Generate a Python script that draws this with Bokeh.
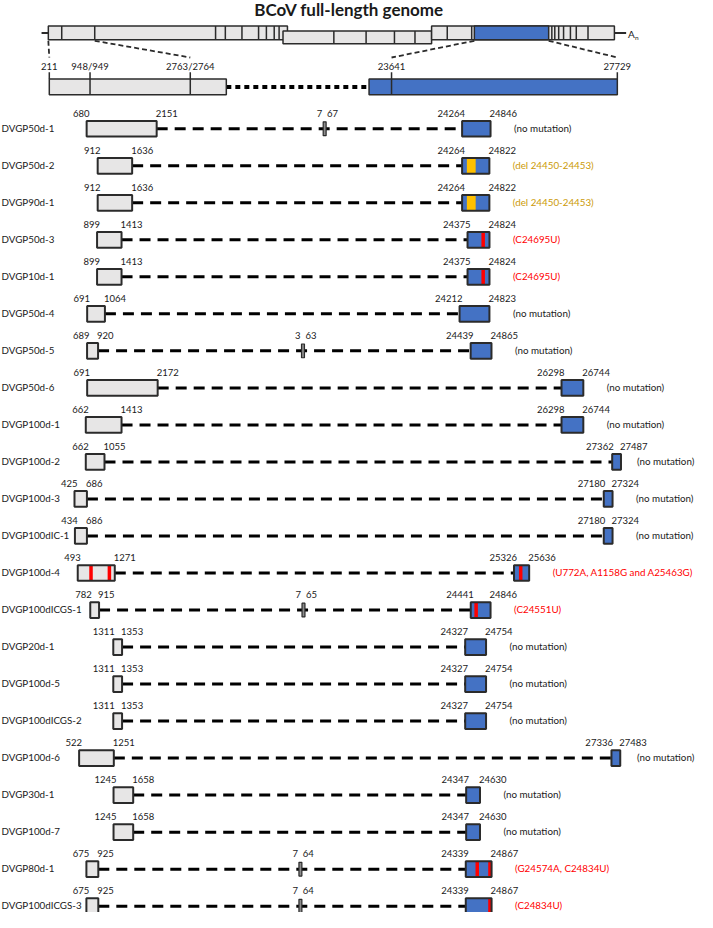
from bokeh.plotting import figure
from bokeh.models import Range1d
from bokeh.core.properties import value
from bokeh.embed import file_html
from bokeh.resources import INLINE

# ---------------- data ----------------
title = "BCoV full-length genome"

# full-length genome schematic (nt positions)
genome_groups_start = [211, 13118, 21290]
genome_groups_end = [13362, 21290, 31344]
genome_dividers = [948, 2763, 9409, 9946, 10860, 11774, 12204, 12634, 12903,
                   15914, 17688, 19247, 20376,
                   22151, 23495, 27903, 28065, 28280, 28548, 28925, 29247, 29892]
s_gene = [23641, 27729]
poly_a_label = "A"
poly_a_sub = "n"

# expanded view
exp_left_window = [211, 3416]
exp_right_window = [23234, 27729]
exp_marks = [211, 948.5, 2763.5, 23641, 27729]
exp_labels = ["211", "948/949", "2763/2764", "23641", "27729"]
exp_dividers = [948.5, 2763.5, 23641]

# DVGP rows
names = ["DVGP50d-1", "DVGP50d-2", "DVGP90d-1", "DVGP50d-3", "DVGP10d-1", "DVGP50d-4",
         "DVGP50d-5", "DVGP50d-6", "DVGP100d-1", "DVGP100d-2", "DVGP100d-3", "DVGP100dIC-1",
         "DVGP100d-4", "DVGP100dICGS-1", "DVGP20d-1", "DVGP100d-5", "DVGP100dICGS-2",
         "DVGP100d-6", "DVGP30d-1", "DVGP100d-7", "DVGP80d-1", "DVGP100dICGS-3"]
left_start = [680, 912, 912, 899, 899, 691, 689, 691, 662, 662, 425, 434, 493, 782,
              1311, 1311, 1311, 522, 1245, 1245, 675, 675]
left_end = [2151, 1636, 1636, 1413, 1413, 1064, 920, 2172, 1413, 1055, 686, 686, 1271, 915,
            1353, 1353, 1353, 1251, 1658, 1658, 925, 925]
right_start = [24264, 24264, 24264, 24375, 24375, 24212, 24439, 26298, 26298, 27362, 27180,
               27180, 25326, 24441, 24327, 24327, 24327, 27336, 24347, 24347, 24339, 24339]
right_end = [24846, 24822, 24822, 24824, 24824, 24823, 24865, 26744, 26744, 27487, 27324,
             27324, 25636, 24846, 24754, 24754, 24754, 27483, 24630, 24630, 24867, 24867]
# leader fragments (row index, start, end)
leader_row = [0, 6, 13, 20, 21]
leader_start = [7, 3, 7, 7, 7]
leader_end = [67, 63, 65, 64, 64]
# mutations
point_row = [3, 4, 12, 12, 12, 13, 20, 20, 21]
point_pos = [24695, 24695, 772, 1158, 25463, 24551, 24574, 24834, 24834]
del_row = [1, 2]
del_start = [24450, 24450]
del_end = [24453, 24453]
notes = ["(no mutation)", "(del 24450-24453)", "(del 24450-24453)", "(C24695U)", "(C24695U)",
         "(no mutation)", "(no mutation)", "(no mutation)", "(no mutation)", "(no mutation)",
         "(no mutation)", "(no mutation)", "(U772A, A1158G and A25463G)", "(C24551U)",
         "(no mutation)", "(no mutation)", "(no mutation)", "(no mutation)", "(no mutation)",
         "(no mutation)", "(G24574A, C24834U)", "(C24834U)"]
note_kind = ["none", "del", "del", "point", "point", "none", "none", "none", "none", "none",
             "none", "none", "point", "point", "none", "none", "none", "none", "none", "none",
             "point", "point"]

# ---------------- scales (reference-pixel units) ----------------
def gx(pos):          # full genome schematic
    return 45 + 0.0186 * pos

def ex(pos):          # expanded view (broken axis)
    return 38 + 0.0565 * pos if pos < 10000 else -935.7 + 0.0565 * pos

def rx(pos):          # DVGP rows (broken axis)
    return 55 + 0.0487 * pos if pos < 10000 else -741 + 0.05 * pos

MINW = 9.0            # minimum drawn width of a fragment box

def widen(a, b):
    if b - a < MINW:
        c = (a + b) / 2
        return c - MINW / 2, c + MINW / 2
    return a, b

FONT = value("Lato")
GRAY = "#E7E6E6"
BLUE = "#4472C4"
EDGE = "#2b2b2b"
TXT = "#1a1a1a"
RED = "#FF0000"
GOLD = "#CC9A06"

p = figure(width=697, height=912, x_range=Range1d(0, 713), y_range=Range1d(928, 0),
           output_backend="svg", toolbar_location=None, min_border=0,
           x_axis_location=None, y_axis_location=None)
p.grid.visible = False
p.outline_line_color = None
p.background_fill_color = "white"

# ---------------- title ----------------
p.text(x=[356.5], y=[9], text=[title], text_font=FONT, text_font_style="bold",
       text_font_size="17px", text_align="center", text_baseline="middle", text_color=TXT)

# ---------------- full genome schematic ----------------
gy = [33, 37.5, 33]
gh = [14, 13, 14]
p.segment(x0=[gx(0) - 3, gx(genome_groups_end[-1])], y0=[33, 33],
          x1=[gx(genome_groups_start[0]), gx(genome_groups_end[-1]) + 12], y1=[33, 33],
          line_color=EDGE, line_width=2)
for s, e, yy, h in zip(genome_groups_start, genome_groups_end, gy, gh):
    p.quad(left=[gx(s)], right=[gx(e)], top=[yy - h / 2], bottom=[yy + h / 2],
           fill_color=GRAY, line_color=EDGE, line_width=1.5)
p.quad(left=[gx(s_gene[0])], right=[gx(s_gene[1])], top=[26], bottom=[40],
       fill_color=BLUE, line_color=EDGE, line_width=1.5)
for d in genome_dividers:
    gi = max(i for i, s in enumerate(genome_groups_start) if s <= d)
    p.segment(x0=[gx(d)], y0=[gy[gi] - gh[gi] / 2], x1=[gx(d)], y1=[gy[gi] + gh[gi] / 2],
              line_color=EDGE, line_width=1.5)
p.text(x=[gx(genome_groups_end[-1]) + 14], y=[34], text=[poly_a_label], text_font=FONT,
       text_font_size="10px", text_baseline="middle", text_color=TXT)
p.text(x=[gx(genome_groups_end[-1]) + 21], y=[38], text=[poly_a_sub], text_font=FONT,
       text_font_size="6.5px", text_baseline="middle", text_color=TXT)

# connectors from schematic to expanded view
conn_top = [211, 2763.5, 23641, 27729]
p.segment(x0=[gx(v) for v in conn_top], y0=[41] * 4, x1=[ex(v) for v in conn_top], y1=[58] * 4,
          line_color=EDGE, line_width=1.8, line_dash="5 3")

# ---------------- expanded view ----------------
p.segment(x0=[ex(exp_left_window[1])], y0=[88], x1=[ex(exp_right_window[0])], y1=[88],
          line_color="black", line_width=4, line_dash="5 4")
p.quad(left=[ex(exp_left_window[0])], right=[ex(exp_left_window[1])], top=[80], bottom=[96],
       fill_color=GRAY, line_color=EDGE, line_width=1.5)
p.quad(left=[ex(exp_right_window[0])], right=[ex(exp_right_window[1])], top=[80], bottom=[96],
       fill_color=BLUE, line_color=EDGE, line_width=1.5)
p.segment(x0=[ex(v) for v in exp_dividers], y0=[80] * 3, x1=[ex(v) for v in exp_dividers],
          y1=[96] * 3, line_color=EDGE, line_width=1.5)
p.segment(x0=[ex(v) for v in exp_marks], y0=[73] * 5, x1=[ex(v) for v in exp_marks],
          y1=[80] * 5, line_color=EDGE, line_width=1.5)
p.text(x=[ex(v) for v in exp_marks], y=[67] * 5, text=exp_labels, text_font=FONT,
       text_font_size="9.5px", text_align="center", text_baseline="middle", text_color=TXT)

# ---------------- DVGP rows ----------------
Y0, DY = 130.5, 37.67
n = len(names)
yc = [Y0 + i * DY for i in range(n)]
L = [widen(rx(s), rx(e)) for s, e in zip(left_start, left_end)]
R = [widen(rx(s), rx(e)) for s, e in zip(right_start, right_end)]
lxs = [a for a, b in L]
lxe = [b for a, b in L]
rxs = [a for a, b in R]
rxe = [b for a, b in R]

# row names
p.text(x=[1] * n, y=[y - 1 for y in yc], text=names, text_font=FONT, text_font_size="9.8px",
       text_baseline="middle", text_color=TXT)

# dashed junction lines
p.segment(x0=lxe, y0=yc, x1=rxs, y1=yc, line_color="black", line_width=3, line_dash="11 7")

# 5' and 3' fragment fills
p.quad(left=lxs, right=lxe, top=[y - 8 for y in yc], bottom=[y + 8 for y in yc],
       fill_color=GRAY, line_color=None)
p.quad(left=rxs, right=rxe, top=[y - 8 for y in yc], bottom=[y + 8 for y in yc],
       fill_color=BLUE, line_color=None)

# position inside a (possibly widened) drawn box
def inbox(r, pos):
    if pos < 10000:
        s, e, a, b = left_start[r], left_end[r], lxs[r], lxe[r]
    else:
        s, e, a, b = right_start[r], right_end[r], rxs[r], rxe[r]
    return a + (pos - s) / (e - s) * (b - a)

# deletions
dc = [inbox(r, (s + e) / 2) for r, s, e in zip(del_row, del_start, del_end)]
p.quad(left=[c - 4.5 for c in dc], right=[c + 4.5 for c in dc],
       top=[yc[r] - 8 for r in del_row], bottom=[yc[r] + 8 for r in del_row],
       fill_color="#FFC000", line_color=None)
# point mutations
pc = [inbox(r, v) for r, v in zip(point_row, point_pos)]
p.quad(left=[c - 1.8 for c in pc], right=[c + 1.8 for c in pc],
       top=[yc[r] - 8 for r in point_row], bottom=[yc[r] + 8 for r in point_row],
       fill_color=RED, line_color=None)

# outlines
p.quad(left=lxs + rxs, right=lxe + rxe, top=[y - 8 for y in yc] * 2,
       bottom=[y + 8 for y in yc] * 2, fill_color=None, line_color=EDGE, line_width=2)

# leader fragments
ldx = []
for r, s, e in zip(leader_row, leader_start, leader_end):
    c = lxe[r] + 0.55 * (rxs[r] - lxe[r])
    w = max(3.0, (e - s) * 0.0487)
    ldx.append((c - w / 2, c + w / 2))
p.quad(left=[a for a, b in ldx], right=[b for a, b in ldx],
       top=[yc[r] - 7 for r in leader_row], bottom=[yc[r] + 7 for r in leader_row],
       fill_color="#8C8C8C", line_color=EDGE, line_width=1.2)
p.text(x=[a - 1 for a, b in ldx], y=[yc[r] - 16 for r in leader_row],
       text=[str(v) for v in leader_start], text_font=FONT, text_font_size="9.5px",
       text_align="right", text_baseline="middle", text_color=TXT)
p.text(x=[b + 1 for a, b in ldx], y=[yc[r] - 16 for r in leader_row],
       text=[str(v) for v in leader_end], text_font=FONT, text_font_size="9.5px",
       text_align="left", text_baseline="middle", text_color=TXT)

# coordinate labels
def anchors(xs, xe):
    mid = (xs + xe) / 2
    return min(xs + 3, mid - 3), max(xe - 1, mid + 3)

for S, E, sv, ev in ((lxs, lxe, left_start, left_end), (rxs, rxe, right_start, right_end)):
    a = [anchors(s, e) for s, e in zip(S, E)]
    p.text(x=[t[0] for t in a], y=[y - 16 for y in yc], text=[str(v) for v in sv],
           text_font=FONT, text_font_size="9.5px", text_align="right", text_baseline="middle",
           text_color=TXT)
    p.text(x=[t[1] for t in a], y=[y - 16 for y in yc], text=[str(v) for v in ev],
           text_font=FONT, text_font_size="9.5px", text_align="left", text_baseline="middle",
           text_color=TXT)

# mutation notes
kind_color = {"none": TXT, "del": GOLD, "point": RED}
p.text(x=[min(e + 24, 651) for e in rxe], y=[y - 1 for y in yc], text=notes, text_font=FONT,
       text_font_size="9.8px", text_align="left", text_baseline="middle",
       text_color=[kind_color[k] for k in note_kind])

open("out.html", "w").write(file_html(p, INLINE))
